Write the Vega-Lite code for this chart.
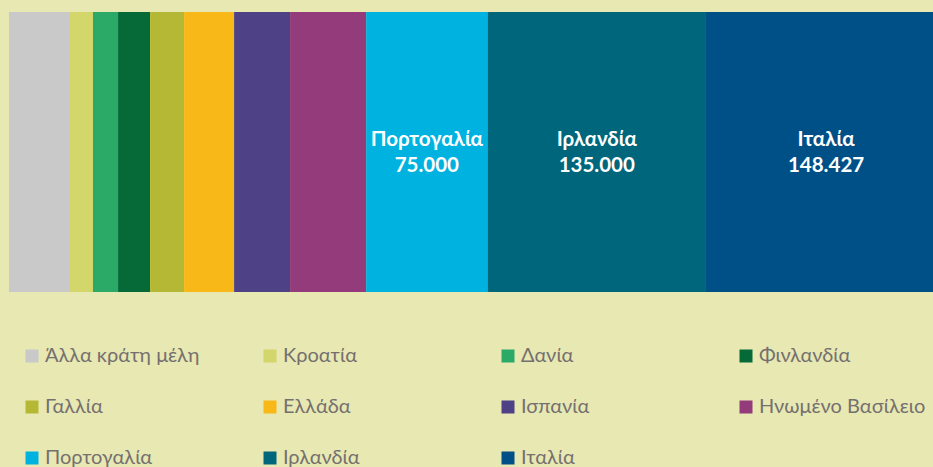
{
  "$schema": "https://vega.github.io/schema/vega-lite/v6.json",
  "width": 924,
  "height": 280,
  "autosize": {"type": "none"},
  "padding": {"left": 9, "top": 12, "right": 0, "bottom": 175},
  "background": "#e8e8b2",
  "config": {
    "view": {"stroke": null},
    "locale": {"number": {"decimal": ",", "thousands": ".", "grouping": [3], "currency": ["", " €"]}}
  },
  "data": {
    "values": [
      {"country": "Άλλα κράτη μέλη", "value": 37700, "order": 1, "group": "all"},
      {"country": "Κροατία", "value": 14200, "order": 2, "group": "all"},
      {"country": "Δανία", "value": 15500, "order": 3, "group": "all"},
      {"country": "Φινλανδία", "value": 19800, "order": 4, "group": "all"},
      {"country": "Γαλλία", "value": 21000, "order": 5, "group": "all"},
      {"country": "Ελλάδα", "value": 30900, "order": 6, "group": "all"},
      {"country": "Ισπανία", "value": 34600, "order": 7, "group": "all"},
      {"country": "Ηνωμένο Βασίλειο", "value": 47000, "order": 8, "group": "all"},
      {"country": "Πορτογαλία", "value": 75000, "order": 9, "group": "all"},
      {"country": "Ιρλανδία", "value": 135000, "order": 10, "group": "all"},
      {"country": "Ιταλία", "value": 148427, "order": 11, "group": "all"}
    ]
  },
  "transform": [
    {"stack": "value", "groupby": ["group"], "sort": [{"field": "order", "order": "ascending"}], "as": ["x0", "x1"]},
    {"calculate": "(datum.x0 + datum.x1) / 2", "as": "mid"}
  ],
  "layer": [
    {
      "mark": {"type": "bar", "clip": true},
      "encoding": {
        "x": {"field": "x0", "type": "quantitative", "scale": {"domain": [0, 571000], "nice": false, "zero": true}, "axis": null},
        "x2": {"field": "x1"},
        "y": {"field": "group", "type": "nominal", "scale": {"paddingInner": 0, "paddingOuter": 0}, "axis": null},
        "color": {
          "field": "country",
          "type": "nominal",
          "sort": null,
          "scale": {
            "domain": ["Άλλα κράτη μέλη", "Κροατία", "Δανία", "Φινλανδία", "Γαλλία", "Ελλάδα", "Ισπανία", "Ηνωμένο Βασίλειο", "Πορτογαλία", "Ιρλανδία", "Ιταλία"],
            "range": ["#c9c9c9", "#d3d66a", "#2baa67", "#056a38", "#b4b834", "#f8b918", "#4e4185", "#943b7b", "#00b2e0", "#00667b", "#005088"]
          },
          "legend": {
            "orient": "none",
            "legendX": 13,
            "legendY": 334,
            "direction": "horizontal",
            "columns": 4,
            "gridAlign": "all",
            "columnPadding": 48,
            "rowPadding": 31,
            "title": null,
            "symbolType": "square",
            "symbolSize": 169,
            "symbolStrokeWidth": 0,
            "labelOffset": 3,
            "labelFont": "Lato",
            "labelFontSize": 20,
            "labelColor": "#757070",
            "labelLimit": 300
          }
        },
        "order": {"field": "order", "type": "quantitative"}
      }
    },
    {
      "transform": [{"filter": "datum.value > 60000"}],
      "mark": {"type": "text", "color": "white", "font": "Lato", "fontWeight": "bold", "fontSize": 20.5, "dy": -12, "align": "center", "baseline": "middle"},
      "encoding": {
        "x": {"field": "mid", "type": "quantitative"},
        "text": {"field": "country"}
      }
    },
    {
      "transform": [{"filter": "datum.value > 60000"}],
      "mark": {"type": "text", "color": "white", "font": "Lato", "fontWeight": "bold", "fontSize": 20.5, "dy": 14, "align": "center", "baseline": "middle"},
      "encoding": {
        "x": {"field": "mid", "type": "quantitative"},
        "text": {"field": "value", "type": "quantitative", "format": ",d"}
      }
    }
  ]
}
